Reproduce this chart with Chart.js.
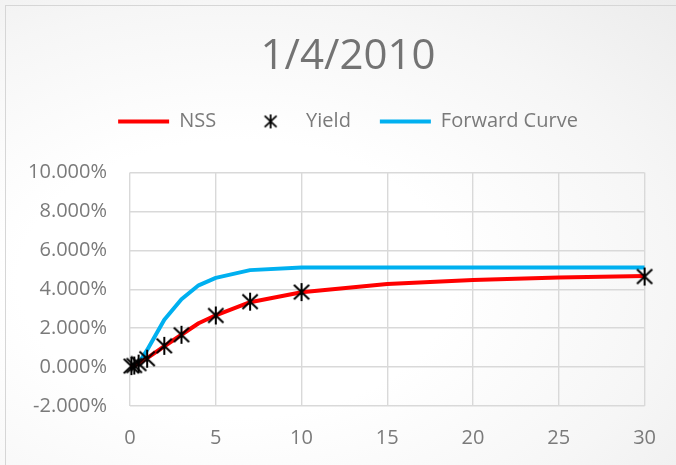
<!DOCTYPE html>
<html>
<head>
<meta charset="utf-8">
<script src="https://cdn.jsdelivr.net/npm/chart.js@4.4.1/dist/chart.umd.min.js"></script>
<style>
  html, body { margin: 0; padding: 0; }
  #wrap {
    position: relative; width: 676px; height: 465px; overflow: hidden;
    background: radial-gradient(ellipse at 35% 60%, #ffffff 35%, #f6f6f6 70%, #ececec 100%);
  }
  #frame {
    position: absolute; left: 5px; top: 5px; width: 700px; height: 500px;
    border-top: 1.5px solid #d6d6d6; border-left: 1.5px solid #d6d6d6;
  }
  canvas { position: absolute; left: 0; top: 0; }
</style>
</head>
<body>
<div id="wrap">
  <div id="frame"></div>
  <canvas id="c" width="676" height="465"></canvas>
</div>
<script>
// ---- data (percent units) ----
const titleText = '1/4/2010';
const seriesNames = ['NSS', 'Yield', 'Forward Curve'];

const nssMaturities = [0.083, 0.25, 0.5, 1, 2, 3, 4, 5, 7, 10, 15, 20, 25, 30];
const nssValues     = [0.02, 0.07, 0.19, 0.46, 1.07, 1.66, 2.25, 2.66, 3.33, 3.84, 4.27, 4.47, 4.60, 4.68];

const yieldMaturities = [0.083, 0.25, 0.5, 1, 2, 3, 5, 7, 10, 30];
const yieldValues     = [0.05, 0.08, 0.18, 0.43, 1.09, 1.66, 2.65, 3.36, 3.85, 4.65];

const fwdMaturities = [0.5, 1, 2, 3, 4, 5, 7, 10, 15, 20, 25, 30];
const fwdValues     = [0.18, 0.88, 2.43, 3.48, 4.20, 4.58, 4.98, 5.11, 5.12, 5.12, 5.12, 5.12];

const xTicksMin = 0, xTicksMax = 30, xTickStep = 5;
const yTicksMin = -2, yTicksMax = 10, yTickStep = 2;

function pairs(xs, ys) { return xs.map((x, i) => ({ x: x, y: ys[i] })); }

// asterisk marker (X plus vertical stroke)
function makeStar(size, lw) {
  const c = document.createElement('canvas');
  c.width = size; c.height = size;
  const g = c.getContext('2d');
  const m = size / 2, r = size / 2 - 1;
  g.strokeStyle = '#000000';
  g.lineWidth = lw;
  g.beginPath();
  g.moveTo(m - r * 0.85, m - r * 0.8); g.lineTo(m + r * 0.85, m + r * 0.8);
  g.moveTo(m + r * 0.85, m - r * 0.8); g.lineTo(m - r * 0.85, m + r * 0.8);
  g.moveTo(m, m - r); g.lineTo(m, m + r);
  g.stroke();
  return c;
}
const star = makeStar(20, 2);
const legendStar = makeStar(16, 1.8);

const textColor = '#7a7a7a';
const gridColor = '#d9d9d9';
const FONT = "'Open Sans', 'Noto Sans', sans-serif";

new Chart(document.getElementById('c'), {
  type: 'line',
  data: {
    datasets: [
      {
        label: seriesNames[0],
        data: pairs(nssMaturities, nssValues),
        borderColor: '#ff0000', backgroundColor: '#ff0000',
        borderWidth: 4, pointRadius: 0, pointStyle: 'line',
        borderJoinStyle: 'round', borderCapStyle: 'round',
        tension: 0, order: 1, xAxisID: 'x', yAxisID: 'y'
      },
      {
        label: seriesNames[1],
        data: pairs(yieldMaturities, yieldValues),
        showLine: false, pointStyle: star, pointRadius: 10,
        borderColor: '#000000', backgroundColor: '#000000',
        order: 0, clip: false, xAxisID: 'x', yAxisID: 'y'
      },
      {
        label: seriesNames[2],
        data: pairs(fwdMaturities, fwdValues),
        borderColor: '#00b0f0', backgroundColor: '#00b0f0',
        borderWidth: 4, pointRadius: 0, pointStyle: 'line',
        borderJoinStyle: 'round', borderCapStyle: 'round',
        tension: 0, order: 2, xAxisID: 'x', yAxisID: 'y'
      }
    ]
  },
  options: {
    responsive: false,
    animation: false,
    devicePixelRatio: 1,
    layout: { padding: { left: 20, right: 0, top: 8, bottom: 15 } },
    plugins: {
      tooltip: { enabled: false },
      title: {
        display: true, text: titleText, color: '#737373',
        font: { family: FONT, size: 42, weight: 'normal' },
        padding: { top: 24, bottom: 0 }
      },
      legend: {
        display: true,
        labels: {
          usePointStyle: true, pointStyleWidth: 51,
          color: textColor, padding: 29,
          font: { family: FONT, size: 20 },
          sort: (a, b) => a.datasetIndex - b.datasetIndex,
          generateLabels: (chart) => {
            const items = Chart.defaults.plugins.legend.labels.generateLabels(chart);
            items.forEach(it => { if (it.datasetIndex === 1) it.pointStyle = legendStar; });
            return items;
          }
        }
      }
    },
    scales: {
      x: {
        type: 'linear', position: 'bottom',
        min: xTicksMin, max: xTicksMax,
        ticks: { stepSize: xTickStep, color: textColor, padding: 20, font: { family: FONT, size: 20 } },
        grid: { color: gridColor, lineWidth: 1.4, drawTicks: false },
        border: { display: false },
        afterFit: s => { s.height = 44; }
      },
      y: {
        type: 'linear', position: 'left',
        min: yTicksMin, max: yTicksMax,
        ticks: {
          stepSize: yTickStep, color: textColor, padding: 23,
          font: { family: FONT, size: 20 },
          callback: v => v.toFixed(3) + '%'
        },
        grid: { color: gridColor, lineWidth: 1.4, drawTicks: false },
        border: { display: false },
        afterFit: s => { s.width = 110; }
      },
      topPad: {
        type: 'linear', position: 'top', axis: 'x',
        ticks: { display: false }, grid: { display: false }, border: { display: false },
        afterFit: s => { s.height = 31; }
      },
      rightPad: {
        type: 'linear', position: 'right', axis: 'y',
        ticks: { display: false }, grid: { display: false }, border: { display: false },
        afterFit: s => { s.width = 30; }
      }
    }
  }
});
</script>
</body>
</html>
